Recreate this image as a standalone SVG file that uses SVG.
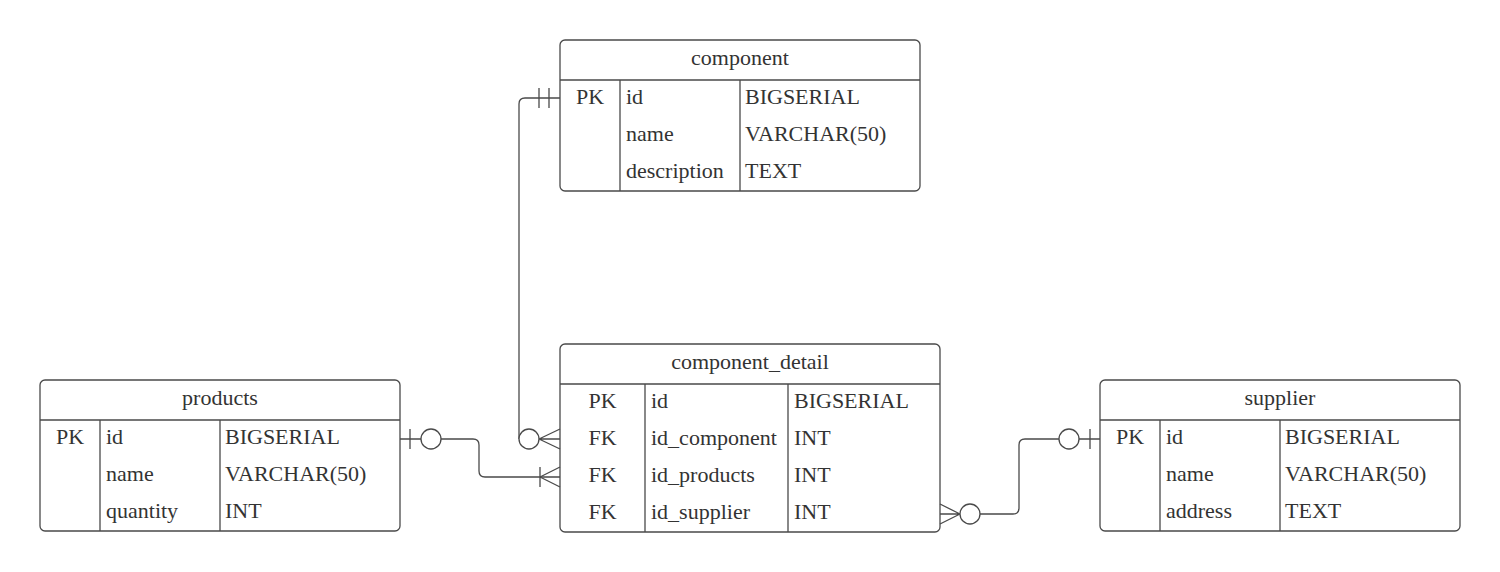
<svg xmlns="http://www.w3.org/2000/svg" width="1500" height="572" viewBox="0 0 1500 572">
<style>
.box{fill:#fff;stroke:#4a4a4a;stroke-width:1.3}
.ln{fill:none;stroke:#4a4a4a;stroke-width:1.3}
.cn{fill:none;stroke:#4a4a4a;stroke-width:1.3}
.ci{fill:#fff;stroke:#4a4a4a;stroke-width:1.3}
text{font-family:"Liberation Serif","Times New Roman",serif;font-size:22px;fill:#333}
.t{text-anchor:middle}
</style>
<rect width="1500" height="572" fill="#fff"/>

<g id="component">
<rect class="box" x="560" y="40" width="360" height="151" rx="5"/>
<path class="ln" d="M560 80H920M620 80V191M740 80V191"/>
<text class="t" x="740" y="65">component</text>
<text class="t" x="590" y="103.5">PK</text>
<text x="626" y="103.5">id</text><text x="745" y="103.5">BIGSERIAL</text>
<text x="626" y="140.5">name</text><text x="745" y="140.5">VARCHAR(50)</text>
<text x="626" y="177.5">description</text><text x="745" y="177.5">TEXT</text>
</g>

<g id="products">
<rect class="box" x="40" y="380" width="360" height="151" rx="5"/>
<path class="ln" d="M40 420H400M100 420V531M220 420V531"/>
<text class="t" x="220" y="405">products</text>
<text class="t" x="70" y="443.5">PK</text>
<text x="106" y="443.5">id</text><text x="225" y="443.5">BIGSERIAL</text>
<text x="106" y="480.5">name</text><text x="225" y="480.5">VARCHAR(50)</text>
<text x="106" y="517.5">quantity</text><text x="225" y="517.5">INT</text>
</g>

<g id="component_detail">
<rect class="box" x="560" y="344" width="380" height="188" rx="5"/>
<path class="ln" d="M560 384H940M645 384V532M788 384V532"/>
<text class="t" x="750" y="369">component_detail</text>
<text class="t" x="602.5" y="407.5">PK</text>
<text x="651" y="407.5">id</text><text x="794" y="407.5">BIGSERIAL</text>
<text class="t" x="602.5" y="444.5">FK</text>
<text x="651" y="444.5">id_component</text><text x="794" y="444.5">INT</text>
<text class="t" x="602.5" y="481.5">FK</text>
<text x="651" y="481.5">id_products</text><text x="794" y="481.5">INT</text>
<text class="t" x="602.5" y="518.5">FK</text>
<text x="651" y="518.5">id_supplier</text><text x="794" y="518.5">INT</text>
</g>

<g id="supplier">
<rect class="box" x="1100" y="380" width="360" height="151" rx="5"/>
<path class="ln" d="M1100 420H1460M1160 420V531M1280 420V531"/>
<text class="t" x="1280" y="405">supplier</text>
<text class="t" x="1130" y="443.5">PK</text>
<text x="1166" y="443.5">id</text><text x="1285" y="443.5">BIGSERIAL</text>
<text x="1166" y="480.5">name</text><text x="1285" y="480.5">VARCHAR(50)</text>
<text x="1166" y="517.5">address</text><text x="1285" y="517.5">TEXT</text>
</g>

<g id="connectors">
<!-- component.id -> component_detail.id_component -->
<path class="cn" d="M560 98H525Q519 98 519 104V439"/>
<path class="cn" d="M539 88V108M549 88V108"/>
<circle class="ci" cx="529" cy="439" r="10"/>
<path class="cn" d="M539 439L560 429M539 439H560M539 439L560 449"/>
<!-- products.id -> component_detail.id_products -->
<path class="cn" d="M400 439H421M441 439H473Q479 439 479 445V471Q479 477 485 477H560"/>
<path class="cn" d="M410 429V449"/>
<circle class="ci" cx="431" cy="439" r="10"/>
<path class="cn" d="M540 467V487M540 477L560 467M540 477L560 487"/>
<!-- component_detail.id_supplier -> supplier.id -->
<path class="cn" d="M940 504L960 514M940 514H960M940 524L960 514"/>
<circle class="ci" cx="970" cy="514" r="10"/>
<path class="cn" d="M980 514H1013Q1019 514 1019 508V445Q1019 439 1025 439H1059M1079 439H1100"/>
<circle class="ci" cx="1069" cy="439" r="10"/>
<path class="cn" d="M1090 429V449"/>
</g>
</svg>
